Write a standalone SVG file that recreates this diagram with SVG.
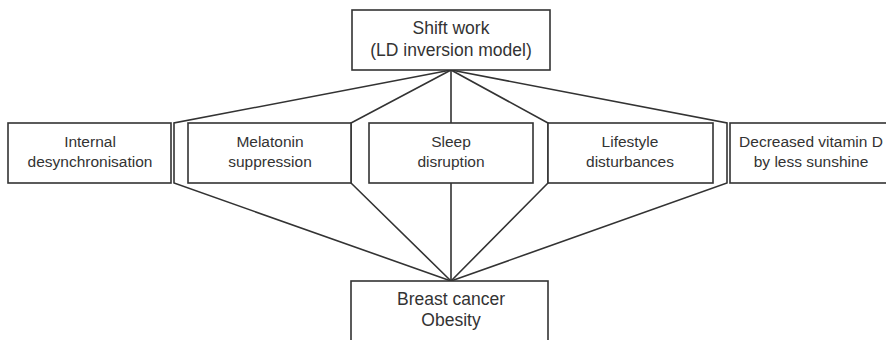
<svg xmlns="http://www.w3.org/2000/svg" width="886" height="340" viewBox="0 0 886 340">
<style>
.box{fill:#fff;stroke:#333;stroke-width:1.6}
.c{fill:none;stroke:#333;stroke-width:1.6;stroke-linejoin:miter}
.t{font-family:"Liberation Sans",Arial,sans-serif;fill:#333;text-anchor:middle}
.big{font-size:17.5px}
.mid{font-size:15.5px}
</style>
<rect width="886" height="340" fill="#fff"/>
<g id="connectors">
<path class="c" d="M451,70 L174,123 L174,183 L451,281"/>
<path class="c" d="M451,70 L351,123 L351,183 L451,281"/>
<path class="c" d="M451,70 L451,123 M451,183 L451,281"/>
<path class="c" d="M451,70 L548,123 L548,183 L451,281"/>
<path class="c" d="M451,70 L727,123 L727,183 L451,281"/>
</g>
<g id="shift-work">
<rect class="box" x="352" y="10" width="198" height="60"/>
<text class="t big" x="451" y="34">Shift work</text>
<text class="t big" x="451" y="56">(LD inversion model)</text>
</g>
<g id="internal">
<rect class="box" x="8" y="123" width="163" height="60"/>
<text class="t mid" x="90" y="147">Internal</text>
<text class="t mid" x="90" y="167">desynchronisation</text>
</g>
<g id="melatonin">
<rect class="box" x="188" y="123" width="163" height="60"/>
<text class="t mid" x="270" y="147">Melatonin</text>
<text class="t mid" x="270" y="167">suppression</text>
</g>
<g id="sleep">
<rect class="box" x="369" y="123" width="164" height="60"/>
<text class="t mid" x="451" y="147">Sleep</text>
<text class="t mid" x="451" y="167">disruption</text>
</g>
<g id="lifestyle">
<rect class="box" x="548" y="123" width="165" height="60"/>
<text class="t mid" x="630" y="147">Lifestyle</text>
<text class="t mid" x="630" y="167">disturbances</text>
</g>
<g id="vitamin-d">
<rect class="box" x="730" y="123" width="164" height="60"/>
<text class="t mid" x="811" y="147">Decreased vitamin D</text>
<text class="t mid" x="811" y="167">by less sunshine</text>
</g>
<g id="breast-cancer">
<rect class="box" x="351" y="281" width="197" height="70"/>
<text class="t big" x="451" y="305">Breast cancer</text>
<text class="t big" x="451" y="326">Obesity</text>
</g>
</svg>
